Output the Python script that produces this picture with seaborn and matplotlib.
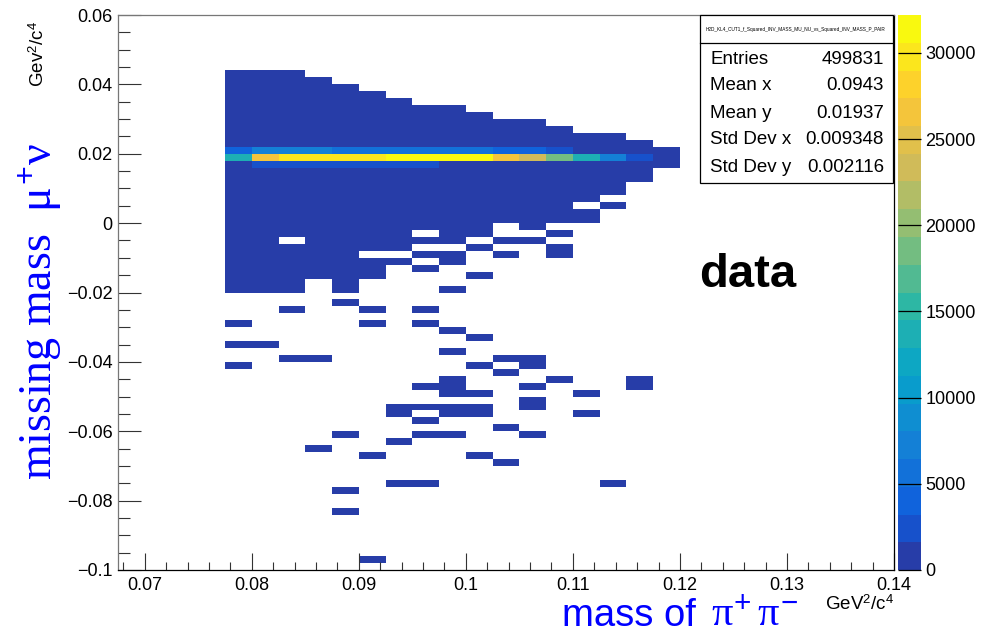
import numpy as np
import pandas as pd
import matplotlib
matplotlib.use("Agg")
import matplotlib.pyplot as plt
import matplotlib.patches as patches
from matplotlib.lines import Line2D
from matplotlib.colors import LinearSegmentedColormap, ListedColormap
from matplotlib.ticker import MultipleLocator, FuncFormatter
import seaborn as sns

############################### data ##############################
# binning of the 2D histogram
x_low, x_high, x_width = 0.0675, 0.14, 0.0025
y_low, y_high, y_width = -0.1, 0.06, 0.002

# lower x edge of every filled column
col_x = [0.0775, 0.0800, 0.0825, 0.0850, 0.0875, 0.0900, 0.0925, 0.0950, 0.0975,
         0.1000, 0.1025, 0.1050, 0.1075, 0.1100, 0.1125, 0.1150, 0.1175]
# solid block in each column (upper / lower y edge)
block_top = [0.044, 0.044, 0.044, 0.042, 0.040, 0.038, 0.036, 0.034, 0.034,
             0.032, 0.030, 0.030, 0.028, 0.026, 0.026, 0.024, 0.022]
block_bottom = [-0.020, -0.020, -0.020, -0.016, -0.020, -0.016, -0.012, -0.010, -0.012,
                -0.008, 0.000, -0.002, 0.000, 0.000, 0.004, 0.012, 0.018]
# empty cells inside the block (column, lower y edge)
holes = [(2, -0.006), (5, -0.010), (6, -0.010), (7, -0.004), (7, -0.008),
         (8, -0.008), (9, -0.006), (13, 0.004), (14, 0.006)]
# single filled cells outside the block (column, lower y edge)
lone_cells = [(7, -0.014), (8, -0.020), (9, -0.016), (10, -0.006), (10, -0.010),
              (11, -0.006), (12, -0.004), (12, -0.008), (12, -0.010),
              (4, -0.024), (2, -0.026), (5, -0.026), (7, -0.026), (0, -0.030),
              (5, -0.030), (7, -0.030), (8, -0.032), (9, -0.034), (0, -0.036),
              (1, -0.036), (8, -0.038), (2, -0.040), (3, -0.040), (10, -0.040),
              (11, -0.040), (0, -0.042), (9, -0.042), (11, -0.042), (10, -0.044),
              (8, -0.046), (8, -0.048), (8, -0.050), (12, -0.046), (15, -0.046),
              (15, -0.048), (7, -0.048), (11, -0.048), (9, -0.050), (13, -0.050),
              (11, -0.052), (11, -0.054), (6, -0.054), (6, -0.056), (7, -0.054),
              (8, -0.054), (8, -0.056), (9, -0.054), (9, -0.056), (13, -0.056),
              (7, -0.058), (10, -0.060), (4, -0.062), (7, -0.062), (8, -0.062),
              (11, -0.062), (6, -0.064), (3, -0.066), (5, -0.068), (9, -0.068),
              (10, -0.070), (6, -0.076), (7, -0.076), (14, -0.076), (4, -0.078),
              (4, -0.084), (5, -0.098)]
# the hot band: lower y edge of each row and its contents per column
band_rows = [0.020, 0.018, 0.016]
band_counts = [
    [4000, 7200, 7200, 7200, 5600, 5600, 5600, 5600, 5600, 5600, 4000, 4000, 2400, 900, 600, 400, 200],
    [13700, 26600, 29800, 29800, 29800, 29800, 31300, 31300, 31300, 31300, 26600, 23400, 18500,
     13700, 7200, 2400, 800],
    [500, 2400, 2400, 2400, 2400, 2400, 2400, 2400, 500, 400, 300, 300, 200, 200, 150, 100, 100],
]
block_count = 100
lone_count = 1
z_max = 32200

# stats box
hist_name = "H2D_KL4_CUT1_f_Squared_INV_MASS_MU_NU_vs_Squared_INV_MASS_P_PAIR"
stat_names = ["Entries", "Mean x", "Mean y", "Std Dev x", "Std Dev y"]
stat_values = ["499831", "0.0943", "0.01937", "0.009348", "0.002116"]

# ROOT kBird palette
bird_stops = [0.0, 0.125, 0.25, 0.375, 0.5, 0.625, 0.75, 0.875, 1.0]
bird_r = [0.2082, 0.0592, 0.0780, 0.0232, 0.1802, 0.5301, 0.8186, 0.9956, 0.9764]
bird_g = [0.1664, 0.3599, 0.5041, 0.6419, 0.7178, 0.7492, 0.7328, 0.7862, 0.9832]
bird_b = [0.5293, 0.8684, 0.8385, 0.7914, 0.6425, 0.4662, 0.3499, 0.1968, 0.0539]
n_levels = 20

############################### build the histogram table ##############################
def row_of(y):
    return int(round((y - y_low) / y_width))

cells = {}
for i in range(len(col_x)):
    for k in range(row_of(block_bottom[i]), row_of(block_top[i])):
        cells[(i, k)] = block_count
for i, y0 in holes:
    cells.pop((i, row_of(y0)), None)
for i, y0 in lone_cells:
    cells[(i, row_of(y0))] = lone_count
for y0, counts in zip(band_rows, band_counts):
    for i, c in enumerate(counts):
        cells[(i, row_of(y0))] = c

df = pd.DataFrame(
    [(col_x[i] + x_width / 2, y_low + (k + 0.5) * y_width, c) for (i, k), c in cells.items()],
    columns=["m_pipi", "m_munu", "n"])

x_edges = np.linspace(x_low, x_high, int(round((x_high - x_low) / x_width)) + 1)
y_edges = np.linspace(y_low, y_high, int(round((y_high - y_low) / y_width)) + 1)

bird = LinearSegmentedColormap.from_list(
    "kBird", list(zip(bird_stops, zip(bird_r, bird_g, bird_b))))
level_pos = np.floor((np.arange(n_levels) + 0.99) * 255 / n_levels) / 255
palette = ListedColormap(bird(level_pos))

############################### plot ##############################
plt.rcParams['font.family'] = ['Liberation Sans', 'DejaVu Sans']
plt.rcParams['mathtext.fontset'] = 'custom'
plt.rcParams['mathtext.rm'] = 'Liberation Sans'
plt.rcParams['mathtext.it'] = 'Liberation Serif'
plt.rcParams['mathtext.bf'] = 'Liberation Sans:bold'

W, H = 983, 634
fig = plt.figure(figsize=(W / 100, H / 100), dpi=100)
ax = fig.add_axes([118 / W, 1 - 570 / H, 776 / W, 555 / H])
cax = fig.add_axes([898 / W, 1 - 570 / H, 23 / W, 555 / H])

sns.histplot(data=df, x="m_pipi", y="m_munu", weights="n", bins=[x_edges, y_edges],
             cmap=palette, vmin=0, vmax=z_max, cbar=True, cbar_ax=cax, ax=ax)

ax.set_xlim(x_low, x_high)
ax.set_ylim(y_low, y_high)
ax.set_xlabel("")
ax.set_ylabel("")

def root_fmt(v, pos):
    v = round(v, 6)
    if v == 0:
        return "0"
    return f"{v:g}".replace("-", "\u2212")

ax.xaxis.set_major_locator(MultipleLocator(0.01))
ax.xaxis.set_minor_locator(MultipleLocator(0.002))
ax.yaxis.set_major_locator(MultipleLocator(0.02))
ax.yaxis.set_minor_locator(MultipleLocator(0.005))
ax.xaxis.set_major_formatter(FuncFormatter(root_fmt))
ax.yaxis.set_major_formatter(FuncFormatter(root_fmt))
ax.tick_params(which='both', direction='in', top=False, right=False, color='#333333',
               width=0.8, labelsize=13)
ax.tick_params(axis='x', which='major', length=12, pad=5)
ax.tick_params(axis='x', which='minor', length=6)
ax.tick_params(axis='y', which='major', length=16.5, pad=4)
ax.tick_params(axis='y', which='minor', length=8.3)
for side in ['top', 'left']:
    ax.spines[side].set_color('#777777')
for side in ['bottom', 'right']:
    ax.spines[side].set_color('black')
for s in ax.spines.values():
    s.set_linewidth(0.9)

cbar = ax.collections[0].colorbar
cbar.outline.set_visible(False)
cbar.set_ticks(np.arange(0, 30001, 5000))
cbar.set_ticklabels([str(t) for t in range(0, 30001, 5000)])
cax.tick_params(axis='y', direction='in', length=16.5, width=0.9, color='black',
                labelsize=13, pad=3)

# stats box
box = patches.Rectangle((700 / W, 1 - 183 / H), 193 / W, 168 / H, transform=fig.transFigure,
                        facecolor='white', edgecolor='black', lw=0.9, zorder=5)
fig.add_artist(box)
fig.add_artist(Line2D([700 / W, 893 / W], [1 - 43 / H] * 2, transform=fig.transFigure,
                      color='black', lw=0.9, zorder=6))
fig.text(796 / W, 1 - 29 / H, hist_name, fontsize=3.4, ha='center', va='center', zorder=7)
for j, (name, val) in enumerate(zip(stat_names, stat_values)):
    yy = 1 - (59 + 27 * j) / H
    fig.text(710 / W, yy, name, fontsize=13.5, ha='left', va='center', zorder=7)
    fig.text(884 / W, yy, val, fontsize=13.5, ha='right', va='center', zorder=7)

# labels
fig.text(748 / W, 1 - 287 / H, "data", fontsize=34, fontweight='bold', ha='center', va='baseline')
fig.text(40 / W, 1 - 312 / H, r"missing mass  $\mu^{+}\nu$", rotation=90, color='blue',
         fontsize=33, family=['Liberation Serif', 'DejaVu Serif'], ha='center', va='center')
fig.text(38 / W, 1 - 54 / H, r"Gev$^{2}$/c$^{4}$", rotation=90, fontsize=13.5,
         ha='center', va='center')
fig.text(562 / W, 1 - 626 / H, "mass of", color='blue', fontsize=27.5,
         ha='left', va='baseline')
fig.text(711 / W, 1 - 626 / H, r"$\pi^{+}\,\pi^{-}$", color='blue', fontsize=30.5,
         ha='left', va='baseline')
fig.text(825 / W, 1 - 610 / H, r"GeV$^{2}$/c$^{4}$", fontsize=13.5, ha='left', va='baseline')

fig.savefig("out.png", dpi=100, facecolor='white')
